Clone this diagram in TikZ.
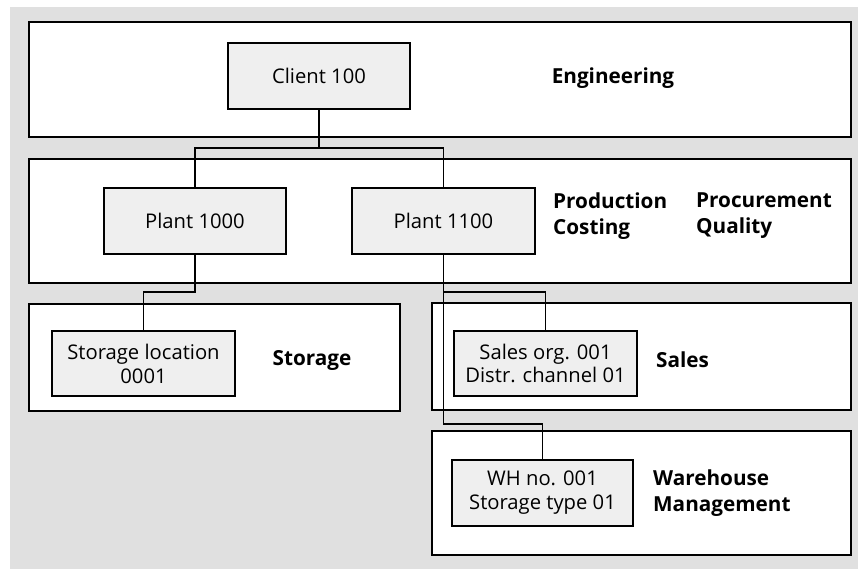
\documentclass[tikz,border=0pt]{standalone}
\usepackage{fontspec}
\setmainfont{Open Sans}
\definecolor{bggrey}{HTML}{E0E0E0}
\definecolor{boxgrey}{HTML}{EFEFEF}
\begin{document}
\begin{tikzpicture}[x=1bp,y=-1bp,
  panel/.style={draw=black, fill=white, line width=1.6bp, minimum width=#1, inner sep=0pt},
  unit/.style={draw=black, fill=boxgrey, line width=1.6bp, minimum width=182bp, minimum height=66bp,
               inner sep=0pt, align=center, font=\fontsize{20.3}{24}\selectfont},
  lbl/.style={font=\bfseries\fontsize{20.8}{26}\selectfont, align=left, inner sep=0pt},
  conn/.style={draw=black, line width=1.6bp}]
\useasboundingbox (0,0) rectangle (858,569);
\fill[bggrey] (10,7) rectangle (858,569);
% panels
\node[panel=822bp, minimum height=115bp] (pan1) at (440,79.5) {};
\node[panel=822bp, minimum height=124bp] (pan2) at (440,221) {};
\node[panel=371bp, minimum height=107bp] (pan3) at (214.5,357.5) {};
\node[panel=419bp, minimum height=107bp] (pan4) at (641.5,356.5) {};
\node[panel=419bp, minimum height=124bp] (pan5) at (641.5,493) {};
% units
\node[unit] (client) at (319,76) {Client 100};
\node[unit] (p1) at (195,221) {Plant 1000};
\node[unit, minimum width=183bp] (p2) at (443.5,221) {Plant 1100};
\node[unit, minimum width=183bp, minimum height=65bp] (sl) at (143.5,363.5) {Storage location\\0001};
\node[unit, minimum width=183bp, minimum height=65bp] (so) at (545.5,363.5) {Sales org. 001\\Distr. channel 01};
\node[unit, minimum width=181bp] (wh) at (542.5,493) {WH no. 001\\Storage type 01};
% labels
\node[lbl] (leng) at (613,78) {Engineering};
\node[lbl, anchor=west] (lprod) at (553,216) {Production\\Costing};
\node[lbl, anchor=west] (lproc) at (696,216) {Procurement\\Quality};
\node[lbl] (lsto) at (312,360) {Storage};
\node[lbl, anchor=west] (lsal) at (656,360) {Sales};
\node[lbl, anchor=west] (lwm) at (653,493) {Warehouse\\Management};
% connectors
\coordinate (j1) at (319,148);
\coordinate (j2) at (195,292);
\coordinate (j3) at (443.5,292);
\coordinate (j4) at (443.5,424);
\draw[conn] (client.south) -- (j1);
\draw[conn] (p1.north) |- (j1) -| (p2.north);
\draw[conn] (p1.south) -- (j2) -| (sl.north);
\draw[conn] (p2.south) -- (j3) -| (so.north);
\draw[conn] (j3) -- (j4) -| (wh.north);
\end{tikzpicture}
\end{document}
